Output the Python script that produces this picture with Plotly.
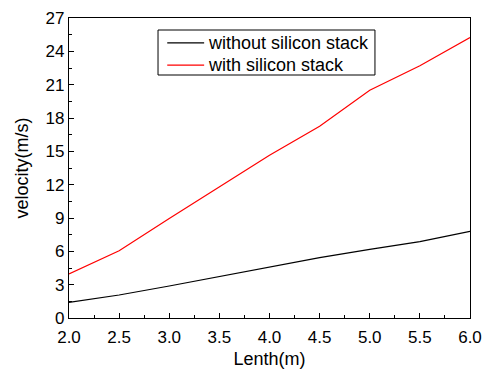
import plotly.graph_objects as go

lengths = [2.0, 2.5, 3.0, 3.5, 4.0, 4.5, 5.0, 5.5, 6.0]
without_stack = [1.41, 2.07, 2.88, 3.72, 4.53, 5.43, 6.18, 6.87, 7.80]
with_stack = [3.96, 6.06, 8.95, 11.8, 14.65, 17.25, 20.5, 22.7, 25.25]
x_ticks = [2.0, 2.5, 3.0, 3.5, 4.0, 4.5, 5.0, 5.5, 6.0]
y_ticks = [0, 3, 6, 9, 12, 15, 18, 21, 24, 27]
series_names = ["without silicon stack", "with silicon stack"]
series_colors = ["black", "#ff0000"]

font = "Liberation Sans, Arial, sans-serif"

fig = go.Figure()
for name, ys, col in zip(series_names, [without_stack, with_stack], series_colors):
    fig.add_trace(go.Scatter(x=lengths, y=ys, mode="lines", name=name,
                             line=dict(color=col, width=1.2), showlegend=False))

axis_common = dict(showgrid=False, zeroline=False, showline=True, linecolor="black",
                   linewidth=1.2, mirror=True, ticks="inside", ticklen=5,
                   tickcolor="black", tickwidth=1, automargin=False,
                   tickfont=dict(family=font, size=17, color="black"))

fig.update_xaxes(range=[2.0, 6.0], tickvals=x_ticks,
                 ticktext=[f"{v:.1f}" for v in x_ticks],
                 ticklabelstandoff=3,
                 minor=dict(ticks="inside", ticklen=3, dtick=0.25, tick0=2.0,
                            tickcolor="black", showgrid=False),
                 title=dict(text="Lenth(m)", font=dict(family=font, size=18, color="black"),
                            standoff=14),
                 **axis_common)
fig.update_yaxes(range=[0, 27], tickvals=y_ticks,
                 minor=dict(ticks="inside", ticklen=3, dtick=1.5, tick0=0,
                            tickcolor="black", showgrid=False),
                 title=dict(text="velocity(m/s)", font=dict(family=font, size=18, color="black"),
                            standoff=12),
                 **axis_common)

# legend box (drawn manually to match the compact original)
lx0, lx1, ly0, ly1 = 0.222, 0.763, 0.81, 0.96
fig.add_shape(type="rect", xref="x domain", yref="y domain",
              x0=lx0, x1=lx1, y0=ly0, y1=ly1,
              line=dict(color="black", width=1), fillcolor="white", layer="above")
row_y = [0.917, 0.843]
for name, col, ry in zip(series_names, series_colors, row_y):
    fig.add_shape(type="line", xref="x domain", yref="y domain",
                  x0=0.245, x1=0.337, y0=ry, y1=ry,
                  line=dict(color=col, width=1.2), layer="above")
    fig.add_annotation(xref="x domain", yref="y domain", x=0.341, y=ry,
                       text=name, showarrow=False, xanchor="left", yanchor="middle",
                       font=dict(family=font, size=18, color="black"))

fig.update_layout(
    width=483, height=369,
    margin=dict(l=69, r=13, t=18, b=51, autoexpand=False),
    paper_bgcolor="white", plot_bgcolor="white",
    showlegend=False,
)

fig.write_html("out.html")
